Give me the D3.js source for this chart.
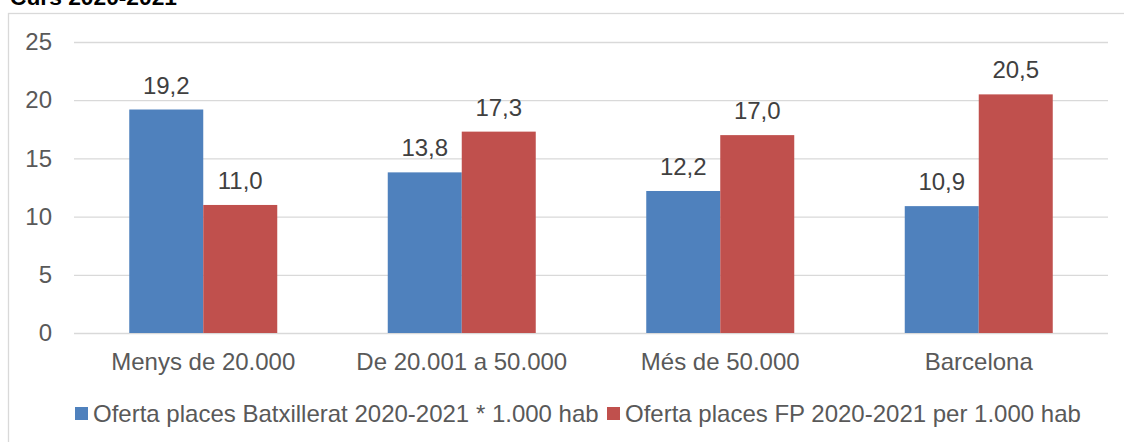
<!DOCTYPE html>
<html><head><meta charset="utf-8">
<script src="https://cdn.jsdelivr.net/npm/d3@7"></script>
<style>body{margin:0;background:#fff}svg{display:block}</style>
</head><body>
<script>
const categories = ["Menys de 20.000", "De 20.001 a 50.000", "Més de 50.000", "Barcelona"];
const seriesNames = ["Oferta places Batxillerat 2020-2021 * 1.000 hab", "Oferta places FP 2020-2021 per 1.000 hab"];
const batxillerat = [19.2, 13.8, 12.2, 10.9];
const fp = [11.0, 17.3, 17.0, 20.5];
const yTicks = [0, 5, 10, 15, 20, 25];
const colors = ["#4F81BD", "#C0504D"];
const title = "Curs 2020-2021";

const W = 1124, H = 442;
const svg = d3.select("body").append("svg").attr("width", W).attr("height", H);
const font = "'Liberation Sans', Arial, sans-serif";
const fs = 24;

// frame
svg.append("rect").attr("x", 8.5).attr("y", 13.5).attr("width", 1130).attr("height", 450)
  .attr("fill", "none").attr("stroke", "#D9D9D9").attr("stroke-width", 1.3);

svg.append("text").attr("x", 10).attr("y", 5).attr("font-family", font)
  .attr("font-weight", "bold").attr("font-size", 22.5).attr("fill", "#000")
  .attr("textLength", 167).attr("lengthAdjust", "spacingAndGlyphs").text(title);

const x0 = d3.scaleBand().domain(categories).range([74, 1108]).paddingInner(0).paddingOuter(0);
const x1 = d3.scaleBand().domain([0, 1]).range([0, x0.bandwidth()]).paddingInner(0).paddingOuter(0.7466);
const y = d3.scaleLinear().domain([0, 25]).range([333, 42]);

// grid
const yAxis = d3.axisLeft(y).tickValues(yTicks).tickSize(-(1108 - 74)).tickFormat(d3.format("d")).tickPadding(22);
const ga = svg.append("g").attr("transform", "translate(74,0)").call(yAxis);
ga.select(".domain").remove();
ga.selectAll(".tick line").attr("stroke", "#D9D9D9").attr("stroke-width", 1.3);
ga.selectAll(".tick text").attr("font-family", font).attr("font-size", fs).attr("fill", "#595959");

const data = categories.map((c, i) => ({ c, vals: [batxillerat[i], fp[i]] }));
const groups = svg.append("g").selectAll("g").data(data).join("g")
  .attr("transform", d => `translate(${x0(d.c)},0)`);
groups.selectAll("rect").data(d => d.vals.map((v, k) => ({ v, k }))).join("rect")
  .attr("x", d => x1(d.k)).attr("width", x1.bandwidth())
  .attr("y", d => y(d.v)).attr("height", d => y(0) - y(d.v))
  .attr("fill", d => colors[d.k]);
groups.selectAll("text.lbl").data(d => d.vals.map((v, k) => ({ v, k }))).join("text")
  .attr("class", "lbl")
  .attr("x", d => x1(d.k) + x1.bandwidth() / 2).attr("y", d => y(d.v) - 16)
  .attr("text-anchor", "middle").attr("font-family", font).attr("font-size", fs).attr("fill", "#404040")
  .text(d => d3.format(".1f")(d.v).replace(".", ","));

// x axis labels
const xAxis = d3.axisBottom(x0).tickSize(0).tickPadding(0);
const gx = svg.append("g").attr("transform", "translate(0,333)").call(xAxis);
gx.select(".domain").remove();
gx.selectAll(".tick text").attr("font-family", font).attr("font-size", fs).attr("fill", "#595959")
  .attr("dy", null).attr("y", 37);

// legend
const legX = [75, 607];
const leg = svg.append("g").selectAll("g").data(seriesNames).join("g")
  .attr("transform", (d, i) => `translate(${legX[i]},0)`);
leg.append("rect").attr("x", 0).attr("y", 407).attr("width", 13).attr("height", 13).attr("fill", (d, i) => colors[i]);
leg.append("text").attr("x", 18).attr("y", 421.5).attr("font-family", font).attr("font-size", fs)
  .attr("fill", "#595959").text(d => d);
</script>
</body></html>
